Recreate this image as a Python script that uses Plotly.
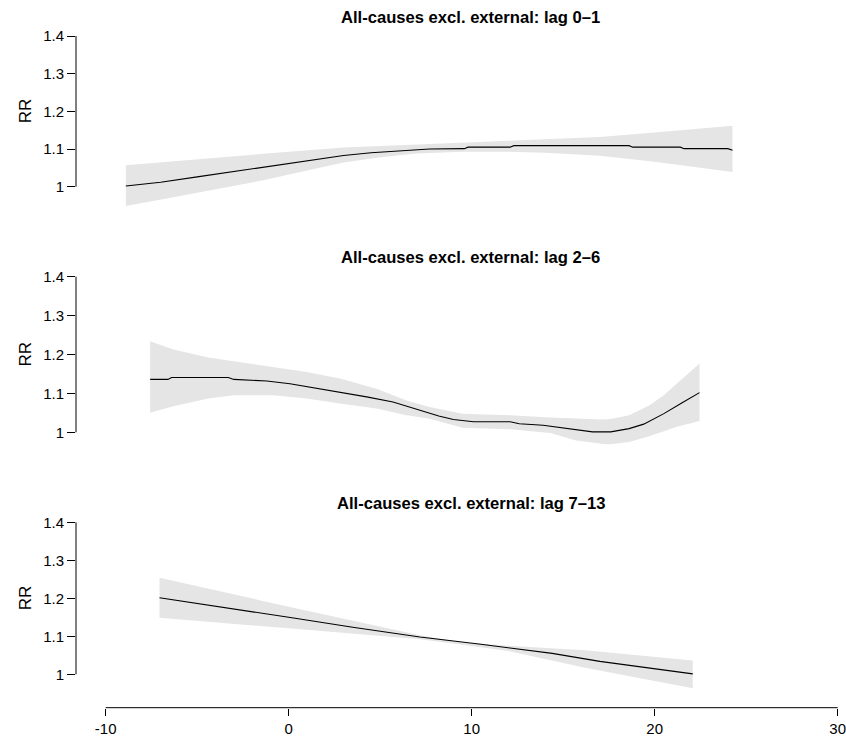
import plotly.graph_objects as go

# ---------------- data ----------------
titles = ["All-causes excl. external: lag 0\u20131",
          "All-causes excl. external: lag 2\u20136",
          "All-causes excl. external: lag 7\u201313"]

p1_x = [-8.9, -7, -5, -3, -1.4, 0, 1.5, 3, 4.5, 5.4, 6.5, 7.7, 9.6, 9.8, 12.1, 12.3,
        18.6, 18.8, 21.4, 21.6, 24.0, 24.25]
p1_rr = [1.002, 1.012, 1.026, 1.040, 1.053, 1.062, 1.073, 1.083, 1.090, 1.093, 1.097,
         1.100, 1.101, 1.105, 1.105, 1.109, 1.109, 1.105, 1.105, 1.101, 1.101, 1.097]
p1_ci_x = [-8.9, -5, -1.4, 0, 3, 5, 7, 9.5, 12, 14, 17, 20, 24.25]
p1_hi = [1.057, 1.073, 1.088, 1.093, 1.104, 1.108, 1.112, 1.117, 1.122, 1.126, 1.132, 1.144, 1.162]
p1_lo = [0.949, 0.984, 1.017, 1.032, 1.064, 1.078, 1.088, 1.093, 1.093, 1.090, 1.082, 1.066, 1.039]

p2_x = [-7.57, -6.6, -6.4, -3.3, -3.0, -2.1, -1.2, 0.07, 1.34, 2.8, 4.26, 5.7, 7.17, 8.2,
        9.0, 10.1, 12.1, 12.6, 13.9, 15.4, 16.6, 17.6, 18.6, 19.4, 20.5, 21.5, 22.45]
p2_rr = [1.136, 1.136, 1.141, 1.141, 1.136, 1.134, 1.132, 1.125, 1.115, 1.104, 1.091,
         1.078, 1.057, 1.042, 1.033, 1.027, 1.027, 1.022, 1.018, 1.0095, 1.001, 1.001,
         1.0095, 1.021, 1.048, 1.076, 1.102]
p2_ci_x = [-7.57, -6.3, -4.4, -3.0, -0.84, 0.98, 2.8, 4.8, 6.44, 7.7, 9.5, 12.1, 14.3,
           15.7, 17.2, 17.6, 18.6, 19.7, 20.5, 21.2, 22.45]
p2_hi = [1.234, 1.213, 1.192, 1.182, 1.168, 1.155, 1.138, 1.112, 1.082, 1.065, 1.048,
         1.044, 1.038, 1.035, 1.033, 1.034, 1.044, 1.069, 1.095, 1.125, 1.177]
p2_lo = [1.050, 1.067, 1.087, 1.095, 1.095, 1.087, 1.074, 1.061, 1.044, 1.035, 1.012,
         1.008, 0.998, 0.979, 0.970, 0.969, 0.975, 0.990, 1.003, 1.014, 1.029]

p3_x = [-7.06, -4, 0, 3.5, 7.17, 10.5, 14.4, 17, 20.0, 22.08]
p3_rr = [1.2016, 1.180, 1.150, 1.124, 1.098, 1.079, 1.055, 1.034, 1.015, 1.001]
p3_ci_x = [-7.06, 0, 7.17, 9.5, 12, 16.2, 22.08]
p3_hi = [1.254, 1.178, 1.103, 1.084, 1.075, 1.063, 1.036]
p3_lo = [1.149, 1.121, 1.092, 1.078, 1.061, 1.017, 0.963]

y_ticks = [1, 1.1, 1.2, 1.3, 1.4]
y_tick_labels = ["1", "1.1", "1.2", "1.3", "1.4"]
x_ticks = [-10, 0, 10, 20, 30]
x_tick_labels = ["-10", "0", "10", "20", "30"]
y_label = "RR"

panels = [(p1_x, p1_rr, p1_ci_x, p1_lo, p1_hi),
          (p2_x, p2_rr, p2_ci_x, p2_lo, p2_hi),
          (p3_x, p3_rr, p3_ci_x, p3_lo, p3_hi)]

# ---------------- layout geometry (pixels) ----------------
W, H = 846, 737
L = 76
FONT = "Liberation Sans, Arial, Helvetica, sans-serif"
# (domain top px, domain bottom px, px of RR=1, px per RR unit)
geom = [(20, 215, 186.7, 376.75),
        (262, 455, 432.3, 389.0),
        (505, 707.7, 674.3, 380.0)]
title_py = [17, 258, 503]
x_lo = (L - 288.7) / 18.3
x_hi = (W - 288.7) / 18.3

fig = go.Figure()
shapes = []
annotations = []
for i, (px, prr, cx, lo, hi) in enumerate(panels):
    n = i + 1
    xa = "x" if n == 1 else f"x{n}"
    ya = "y" if n == 1 else f"y{n}"
    fig.add_trace(go.Scatter(x=list(cx) + list(cx)[::-1], y=list(hi) + list(lo)[::-1],
                             fill="toself", fillcolor="#E5E5E5", mode="lines",
                             line=dict(width=0, color="rgba(0,0,0,0)"),
                             hoverinfo="skip", showlegend=False, xaxis=xa, yaxis=ya))
    fig.add_trace(go.Scatter(x=px, y=prr, mode="lines", line=dict(color="black", width=1.1),
                             showlegend=False, xaxis=xa, yaxis=ya))
    top, bot, one, sc = geom[i]
    yr = [1 - (bot - one) / sc, 1 + (one - top) / sc]
    dom = [1 - bot / H, 1 - top / H]
    axname = "yaxis" if n == 1 else f"yaxis{n}"
    xname = "xaxis" if n == 1 else f"xaxis{n}"
    fig.layout[axname] = dict(domain=dom, range=yr, anchor=xa, tickvals=y_ticks,
                              ticktext=y_tick_labels, ticks="outside", ticklen=8,
                              tickwidth=1, tickcolor="black", showgrid=False,
                              zeroline=False, showline=False,
                              tickfont=dict(family=FONT, size=15, color="black"))
    last = (n == 3)
    fig.layout[xname] = dict(domain=[0, 1], range=[x_lo, x_hi], anchor=ya,
                             tickvals=x_ticks if last else [],
                             ticktext=x_tick_labels if last else [],
                             ticks="outside" if last else "", ticklen=7, tickwidth=1,
                             tickcolor="black", showticklabels=last, showgrid=False,
                             zeroline=False, showline=False, ticklabeloverflow="allow",
                             tickfont=dict(family=FONT, size=15, color="black"))
    # y axis line from 1 to 1.4
    shapes.append(dict(type="line", xref=f"{xa} domain", yref=ya, x0=0, x1=0,
                       y0=y_ticks[0], y1=y_ticks[-1], line=dict(color="black", width=1)))
    annotations.append(dict(text=f"<b>{titles[i]}</b>", xref="paper", yref="paper",
                            x=(470.8 - L) / (W - L), y=1 - title_py[i] / H,
                            xanchor="center", yanchor="middle", showarrow=False,
                            font=dict(family=FONT, size=16.6, color="black")))
    annotations.append(dict(text=y_label, xref="paper", yref=ya, x=(25 - L) / (W - L),
                            y=(y_ticks[0] + y_ticks[-1]) / 2, xanchor="center",
                            yanchor="middle", textangle=-90, showarrow=False,
                            font=dict(family=FONT, size=17, color="black")))

# x axis line from -10 to 30
shapes.append(dict(type="line", xref="x3", yref="y3 domain", x0=x_ticks[0], x1=x_ticks[-1],
                   y0=0, y1=0, line=dict(color="black", width=1)))

fig.update_layout(width=W, height=H, margin=dict(l=L, r=0, t=0, b=0, autoexpand=False),
                  paper_bgcolor="white", plot_bgcolor="white", shapes=shapes,
                  annotations=annotations, font=dict(family=FONT, color="black"))
fig.write_html("out.html")
